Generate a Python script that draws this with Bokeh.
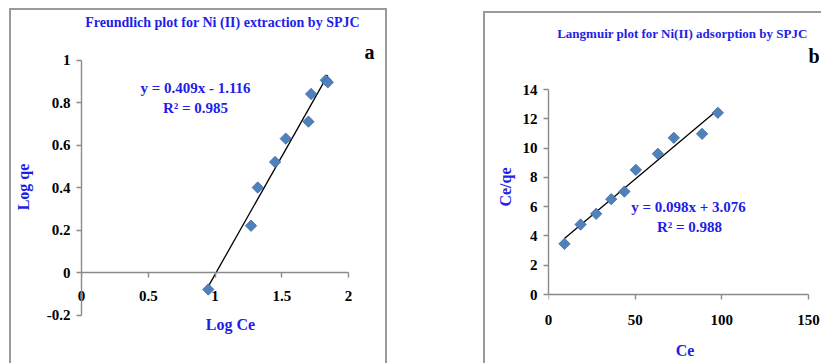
import numpy as np
from bokeh.plotting import figure
from bokeh.layouts import row
from bokeh.models import (Label, LinearAxis, FixedTicker, CustomJSTickFormatter,
                          CustomLabelingPolicy)
from bokeh.embed import file_html
from bokeh.resources import INLINE

# Freundlich isotherm data (log scale)
log_ce = [0.95, 1.27, 1.32, 1.45, 1.53, 1.70, 1.72, 1.83, 1.845]
log_qe = [-0.08, 0.22, 0.40, 0.52, 0.63, 0.71, 0.84, 0.905, 0.895]
freundlich_eq = ["y = 0.409x - 1.116", "R\u00b2 = 0.985"]
freundlich_xticks = [0, 0.5, 1, 1.5, 2]
freundlich_yticks = [-0.2, 0, 0.2, 0.4, 0.6, 0.8, 1]

# Langmuir isotherm data
ce = [9.2, 18.5, 27.5, 36.2, 43.8, 50.4, 63.1, 72.3, 88.6, 97.7]
ce_qe = [3.46, 4.78, 5.51, 6.51, 7.03, 8.51, 9.61, 10.70, 10.97, 12.41]
langmuir_eq = ["y = 0.098x + 3.076", "R\u00b2 = 0.988"]
langmuir_xticks = [0, 50, 100, 150]
langmuir_yticks = [0, 2, 4, 6, 8, 10, 12, 14]

SERIF = "Liberation Serif"
BLUE = "#1E1EE6"
AXIS_GRAY = "#8a8a8a"
MARKER = "#4F81BD"
H = 363
TOP = 10  # frame top of both panels

fmt = CustomJSTickFormatter(code="return String(Math.round(tick * 100) / 100);")


def tick_labels(ax, ticks, standoff):
    ax.ticker = FixedTicker(ticks=ticks)
    ax.formatter = fmt
    ax.major_label_text_font = SERIF
    ax.major_label_text_font_style = "bold"
    ax.major_label_text_font_size = "15px"
    ax.major_label_text_color = "black"
    ax.major_label_standoff = standoff
    ax.minor_tick_line_color = None


def axis_title(ax, text, standoff):
    ax.axis_label = text
    ax.axis_label_text_font = SERIF
    ax.axis_label_text_font_style = "bold"
    ax.axis_label_text_font_size = "16px"
    ax.axis_label_text_color = BLUE
    ax.axis_label_standoff = standoff


def gray_rule(ax):
    ax.axis_line_color = AXIS_GRAY
    ax.axis_line_width = 1.4
    ax.major_tick_line_color = AXIS_GRAY
    ax.major_tick_line_width = 1.4
    ax.minor_tick_line_color = None


def build(width, left_px, right_border, x_px_per_unit, x_ticks, x_label,
          y_zero_px, y_px_per_unit, y_bounds, y_ticks, y_label,
          xlab_standoff, xtitle_standoff, ytitle_standoff):
    x_end = (width - right_border - left_px) / x_px_per_unit
    y_end = (y_zero_px - TOP) / y_px_per_unit
    y_start = -(H - y_zero_px) / y_px_per_unit
    p = figure(width=width, height=H, x_range=(0, x_end), y_range=(y_start, y_end),
               min_border_left=left_px, min_border_top=TOP,
               min_border_right=right_border, min_border_bottom=0,
               toolbar_location=None, output_backend="svg", title=None)
    p.grid.visible = False
    p.outline_line_color = None
    p.border_fill_color = None
    p.background_fill_color = None

    # y axis: gray rule limited to the tick span, outward ticks
    yax = p.left[0]
    gray_rule(yax)
    yax.bounds = y_bounds
    yax.major_tick_out = 5
    yax.major_tick_in = 0
    tick_labels(yax, y_ticks, 6)
    axis_title(yax, y_label, ytitle_standoff)

    # x tick labels and title along the bottom (no rule of its own)
    xax = p.below[0]
    xax.axis_line_color = None
    xax.major_tick_line_color = None
    xax.major_tick_out = 0
    xax.major_tick_in = 0
    xax.bounds = (x_ticks[0], x_ticks[-1])
    tick_labels(xax, x_ticks, xlab_standoff)
    axis_title(xax, x_label, xtitle_standoff)

    # x axis rule drawn at y = 0, ticks pointing down, no labels
    rule = LinearAxis(fixed_location=0, bounds=(x_ticks[0], x_ticks[-1]))
    gray_rule(rule)
    rule.ticker = FixedTicker(ticks=x_ticks)
    rule.major_tick_in = 5
    rule.major_tick_out = 0
    rule.major_label_standoff = 0
    rule.major_label_policy = CustomLabelingPolicy(code="return []")
    p.add_layout(rule, "above")
    return p


def canvas_text(p, x, y, text, size, color, align="center"):
    p.add_layout(Label(x=x, y=y, x_units="canvas", y_units="canvas", text=text,
                       text_font=SERIF, text_font_style="bold",
                       text_font_size=size, text_color=color,
                       text_align=align, text_baseline="middle"))


def trend(p, xs, ys):
    slope, icpt = np.polyfit(xs, ys, 1)
    x0, x1 = min(xs), max(xs)
    p.line([x0, x1], [slope * x0 + icpt, slope * x1 + icpt],
           line_color="black", line_width=1.3)


def points(p, xs, ys):
    p.scatter(xs, ys, marker="square", angle=np.pi / 4, size=8,
              fill_color=MARKER, line_color="#3d6a9e", line_width=0.8)


# ---- (a) Freundlich plot ----
p1 = build(410, 81, 31, 133.5, freundlich_xticks, "Log Ce",
           272, 212.5, (-0.2, 1), freundlich_yticks, "Log qe",
           -73, 12, 12)
trend(p1, log_ce, log_qe)
points(p1, log_ce, log_qe)
canvas_text(p1, 222, 22, "Freundlich plot for Ni (II) extraction by SPJC", "14px", BLUE)
canvas_text(p1, 369, 51, "a", "20px", "black")
canvas_text(p1, 195, 87, freundlich_eq[0], "15px", BLUE)
canvas_text(p1, 195, 107, freundlich_eq[1], "15px", BLUE)

# ---- (b) Langmuir plot ----
p2 = build(411, 138, 0, 260 / 150, langmuir_xticks, "Ce",
           294, 205 / 14, (0, 14), langmuir_yticks, "Ce/qe",
           -49, 14, 6)
trend(p2, ce, ce_qe)
points(p2, ce, ce_qe)
canvas_text(p2, 272, 33, "Langmuir plot for Ni(II) adsorption by SPJC", "13px", BLUE)
canvas_text(p2, 398, 55, "b", "20px", "black", align="left")
canvas_text(p2, 278, 206, langmuir_eq[0], "15px", BLUE)
canvas_text(p2, 279, 226, langmuir_eq[1], "15px", BLUE)

# thin gray frames around the two panels
line = "linear-gradient(#9a9a9a, #9a9a9a)"
frames = ", ".join([
    f"{line} 9px 8px / 2px 400px no-repeat",
    f"{line} 9px 8px / 378px 2px no-repeat",
    f"{line} 385px 8px / 2px 400px no-repeat",
    f"{line} 483px 11px / 2px 400px no-repeat",
    f"{line} 483px 11px / 340px 2px no-repeat",
])
layout = row(p1, p2, spacing=0, styles={"background": frames})
open("out.html", "w").write(file_html(layout, INLINE))
